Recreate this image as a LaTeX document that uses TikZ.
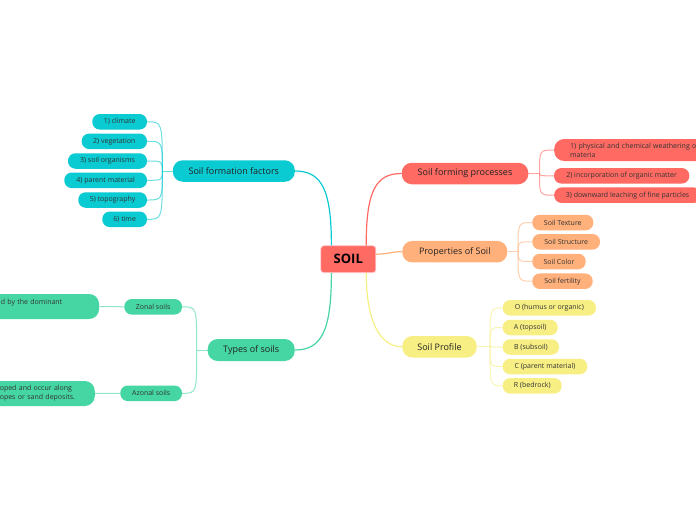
\documentclass[tikz,border=0pt]{standalone}
\usepackage{fontspec}
\setmainfont{Open Sans}
\hyphenpenalty=10000
\exhyphenpenalty=10000
\definecolor{cred}{HTML}{FF6A63}
\definecolor{ccyan}{HTML}{0ACAD2}
\definecolor{cgreen}{HTML}{45D6A4}
\definecolor{corange}{HTML}{FFB07B}
\definecolor{cyellow}{HTML}{F8EF84}
\definecolor{ctext}{HTML}{222222}
\definecolor{cleaf}{HTML}{333333}
\tikzset{
  mainbox/.style={rounded corners=10pt, minimum height=21.5pt, inner sep=0pt,
    font=\fontsize{9}{10}\selectfont, text=ctext},
  leaf/.style={rounded corners=7.4pt, minimum height=15.5pt, inner sep=0pt,
    font=\fontsize{7}{8}\selectfont, text=cleaf},
  desc/.style={rounded corners=10pt, minimum height=25pt, inner ysep=0pt,
    font=\fontsize{7}{9.2}\selectfont, text=cleaf, align=left},
  bigconn/.style={line width=1.2pt},
  subconn/.style={line width=1pt, draw opacity=0.6},
}
\begin{document}
\begin{tikzpicture}[x=1pt, y=-1pt]
\useasboundingbox[fill=white] (0,0) rectangle (696,520);
\begin{scope}
\clip (0,0) rectangle (696,520);

% central node
\node[fill=cred, draw={rgb,255:red,255;green,205;blue,205}, line width=0.8pt,
  rounded corners=3pt, minimum width=55pt, minimum height=27pt, inner sep=0pt,
  font=\fontsize{13}{15}\selectfont\bfseries, text=black] (soil) at (348.3,259.2) {SOIL};

% main branches
\node[mainbox, fill=ccyan, minimum width=122pt] (sff) at (233.8,171) {Soil formation factors};
\node[mainbox, fill=cgreen, minimum width=87pt, minimum height=22pt] (types) at (251.2,350) {Types of soils};
\node[mainbox, fill=cred, minimum width=126.5pt] (proc) at (465,173.5) {Soil forming processes};
\node[mainbox, fill=corange, minimum width=105pt] (prop) at (454.8,251.7) {Properties of Soil};
\node[mainbox, fill=cyellow, minimum width=74.4pt] (prof) at (439.5,346.8) {Soil Profile};

% formation factors leaves
\node[leaf, fill=ccyan, minimum width=54.7pt] (f1) at (119.65,121.8) {1) climate};
\node[leaf, fill=ccyan, minimum width=65.3pt] (f2) at (114.35,141.3) {2) vegetation};
\node[leaf, fill=ccyan, minimum width=79pt] (f3) at (107.5,161) {3) soil organisms};
\node[leaf, fill=ccyan, minimum width=82.7pt] (f4) at (105.65,180.3) {4) parent material};
\node[leaf, fill=ccyan, minimum width=68.7pt] (f5) at (112.65,200) {5) topography};
\node[leaf, fill=ccyan, minimum width=44.7pt] (f6) at (124.65,219.3) {6) time};

% types of soils
\node[leaf, fill=cgreen, minimum width=57.7pt] (zonal) at (153.15,306.8) {Zonal soils};
\node[leaf, fill=cgreen, minimum width=61.7pt] (azonal) at (151.15,393.3) {Azonal soils};
\node[desc, fill=cgreen, anchor=east, inner xsep=20pt, text width=78.3pt] (zdesc) at (99.3,306.5)
  {d by the dominant\\ ~};
\node[desc, fill=cgreen, anchor=east, inner xsep=17pt, text width=78pt] (adesc) at (95,393.5)
  {oped and occur along\\opes or sand deposits.};

% processes
\node[desc, fill=cred, anchor=west, inner xsep=16pt, text width=190pt, minimum height=22pt] (p1) at (554,150)
  {1) physical and chemical weathering of\\materia};
\node[leaf, fill=cred, minimum width=135.3pt] (p2) at (621.65,175.8) {2) incorporation of organic matter};
\node[leaf, fill=cred, anchor=west, inner xsep=11.7pt] (p3) at (554,195.2) {3) downward leaching of fine particles};

% properties
\node[leaf, fill=corange, minimum width=61pt] (s1) at (562.8,222.5) {Soil Texture};
\node[leaf, fill=corange, minimum width=67.7pt] (s2) at (566.15,241.8) {Soil Structure};
\node[leaf, fill=corange, minimum width=53.4pt] (s3) at (559,261.5) {Soil Color};
\node[leaf, fill=corange, minimum width=60.4pt] (s4) at (562.5,281.2) {Soil fertility};

% profile
\node[leaf, fill=cyellow, minimum width=93.3pt] (h1) at (549.35,307.8) {O (humus or organic)};
\node[leaf, fill=cyellow, minimum width=55pt] (h2) at (530.2,327.5) {A (topsoil)};
\node[leaf, fill=cyellow, minimum width=56.3pt] (h3) at (530.85,347) {B (subsoil)};
\node[leaf, fill=cyellow, minimum width=84.6pt] (h4) at (545,366.5) {C (parent material)};
\node[leaf, fill=cyellow, minimum width=59pt] (h5) at (532.2,385.8) {R (bedrock)};

% junction points
\coordinate (jf) at (162.3,171);
\coordinate (jt) at (196.7,350);
\coordinate (jp) at (539.5,173.5);
\coordinate (js) at (518,251.7);
\coordinate (jh) at (490,346.8);

% main connectors
\draw[bigconn, ccyan] ([xshift=11pt]soil.north west) .. controls +(0,-55) and (322,171) .. (sff.east);
\draw[bigconn, cgreen] ([xshift=11pt]soil.south west) .. controls +(0,57) and (322,350) .. (types.east);
\draw[bigconn, cred] ([xshift=-10pt]soil.north east) .. controls +(0,-55) and (376,173.5) .. (proc.west);
\draw[bigconn, corange] ([yshift=5pt]soil.east) .. controls (390,254) and (390,251.7) .. (prop.west);
\draw[bigconn, cyellow] ([xshift=-10pt]soil.south east) .. controls +(0,48) and (380,346.8) .. (prof.west);

% formation factor connectors
\draw[subconn, ccyan] (sff.west) -- (jf);
\foreach \n in {f1,f2,f3,f4,f5,f6}
  \draw[subconn, ccyan] (jf) .. controls (jf |- \n) .. (\n.east);

% types connectors
\draw[subconn, cgreen] (types.west) -- (jt);
\foreach \n in {zonal,azonal}
  \draw[subconn, cgreen] (jt) .. controls (jt |- \n) .. (\n.east);
\draw[subconn, cgreen] (zonal.west) -- (zdesc.east);
\draw[subconn, cgreen] (azonal.west) -- (adesc.east);

% processes connectors
\draw[subconn, cred] (proc.east) -- (jp);
\foreach \n in {p1,p2,p3}
  \draw[subconn, cred] (jp) .. controls (jp |- \n) .. (\n.west);

% properties connectors
\draw[subconn, corange] (prop.east) -- (js);
\foreach \n in {s1,s2,s3,s4}
  \draw[subconn, corange] (js) .. controls (js |- \n) .. (\n.west);

% profile connectors
\draw[subconn, cyellow] (prof.east) -- (jh);
\foreach \n in {h1,h2,h3,h4,h5}
  \draw[subconn, cyellow] (jh) .. controls (jh |- \n) .. (\n.west);
\end{scope}
\end{tikzpicture}
\end{document}
